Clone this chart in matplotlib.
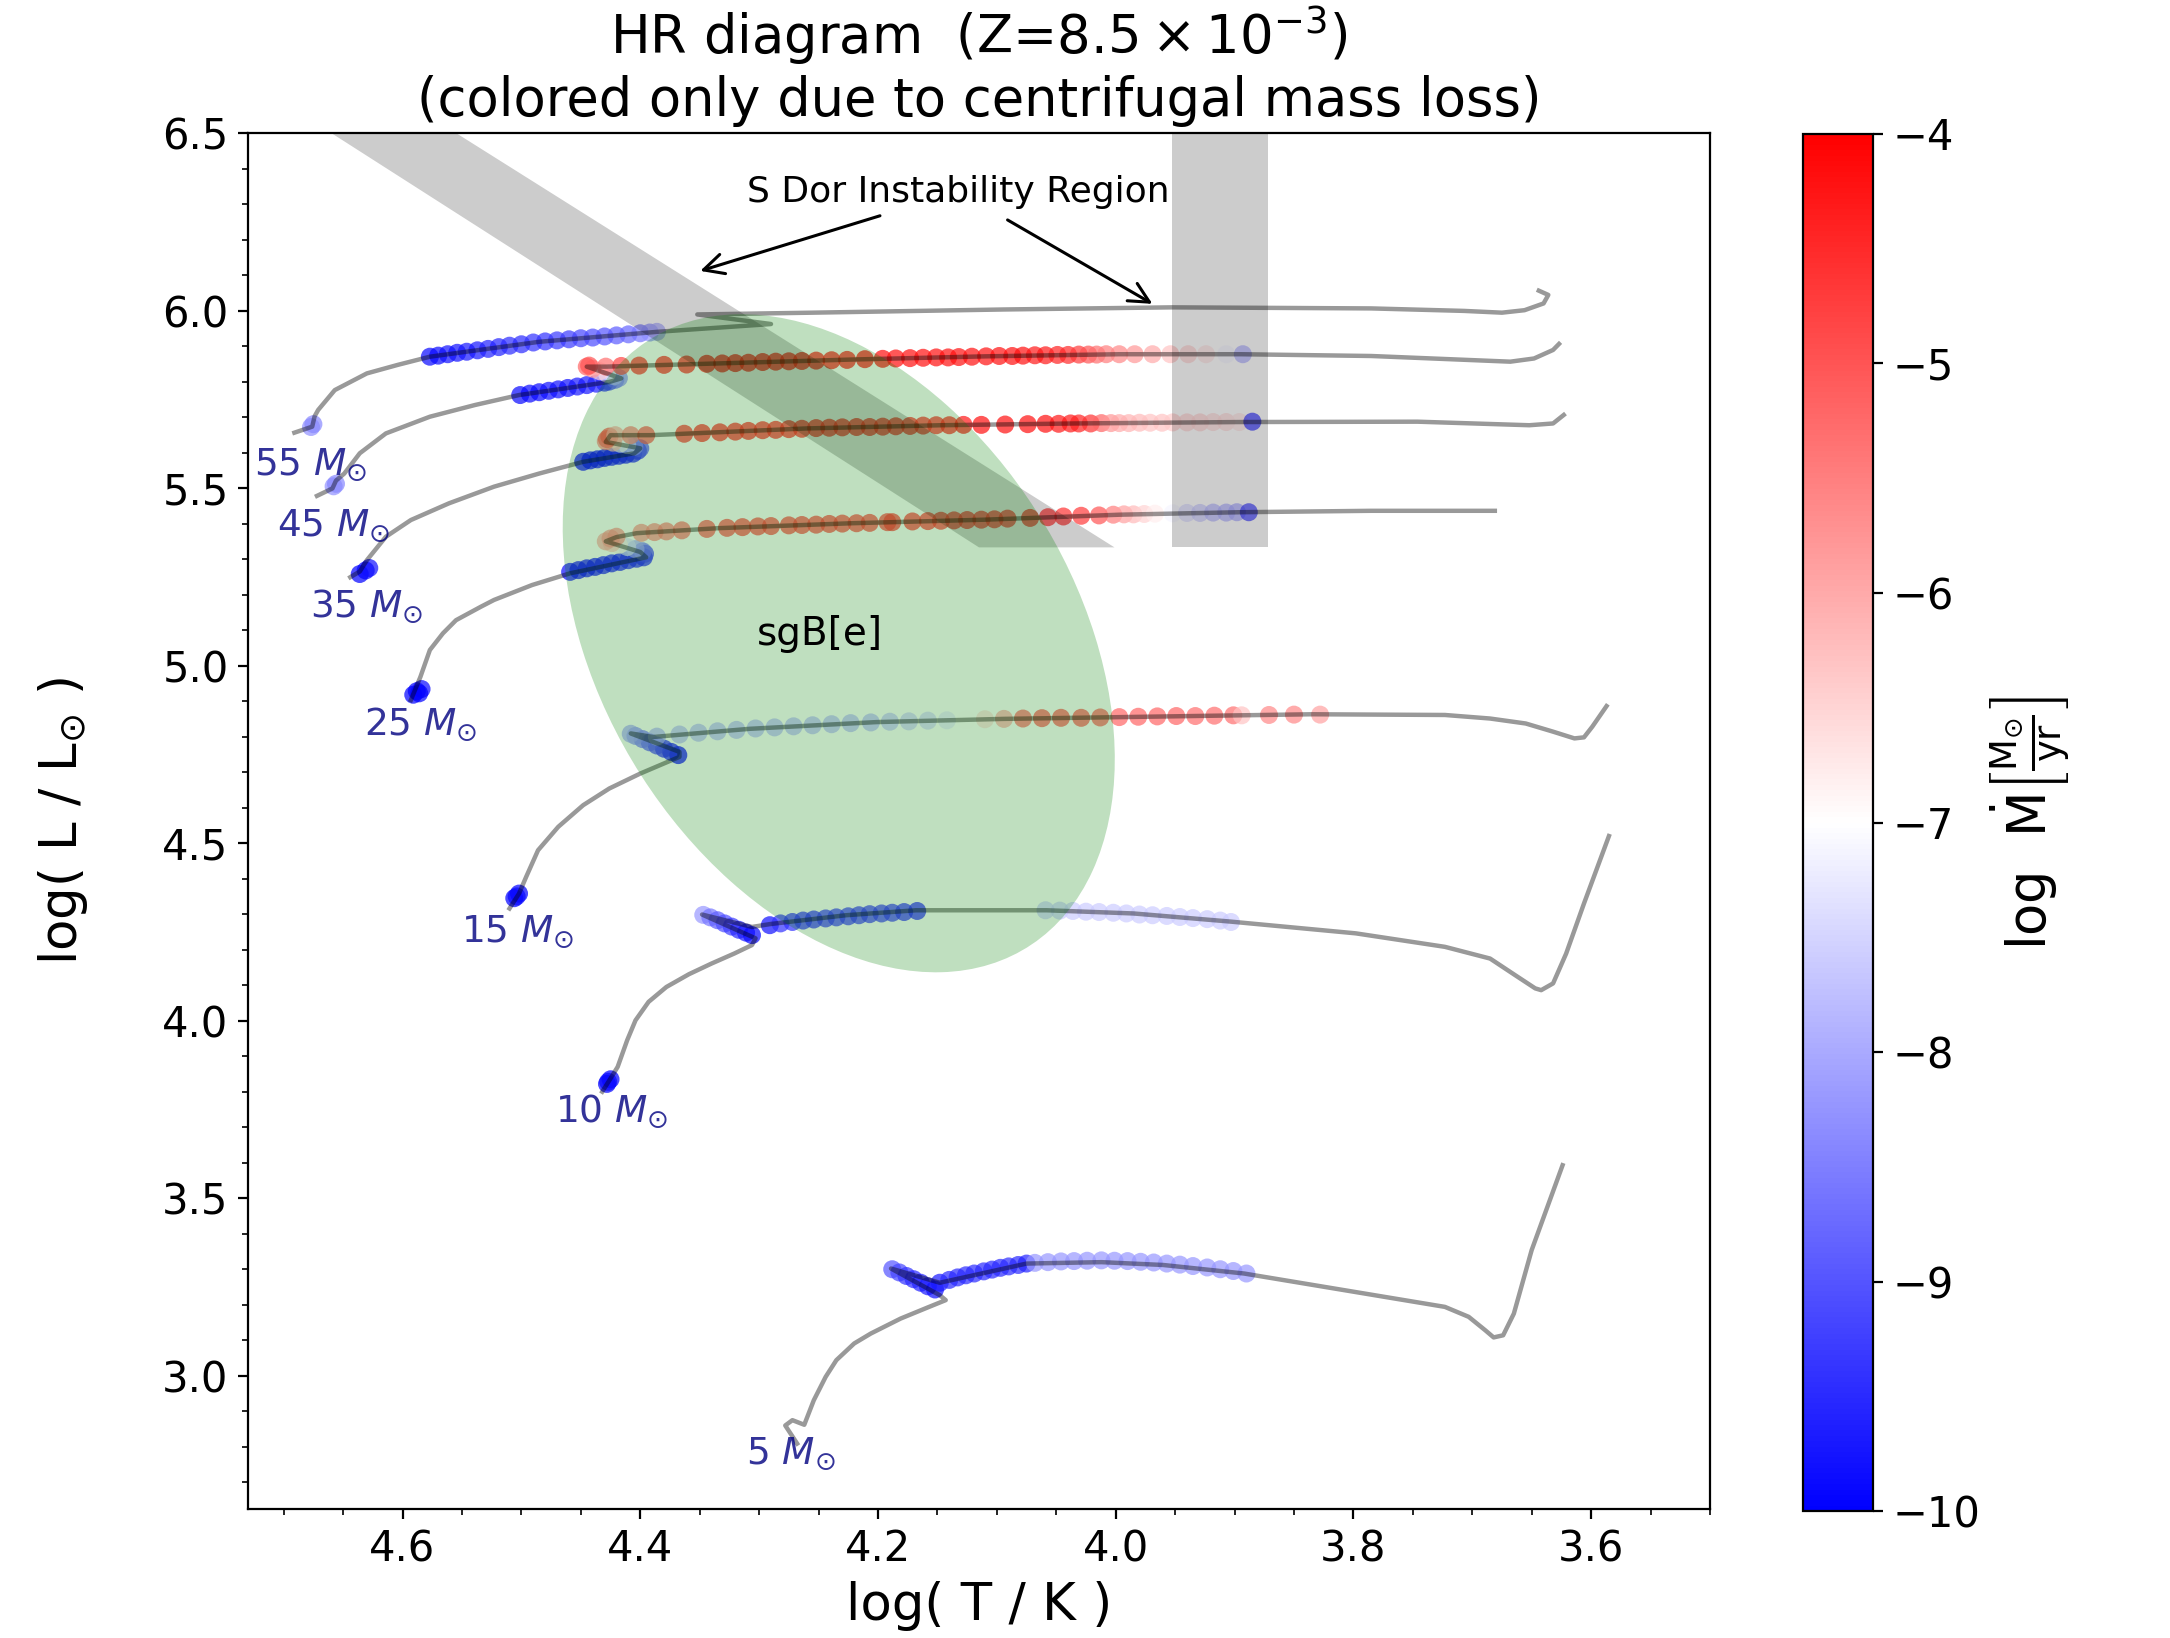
import numpy as np
import matplotlib
matplotlib.use("Agg")
import matplotlib.pyplot as plt
from matplotlib.patches import Ellipse
from matplotlib.ticker import MultipleLocator

# evolutionary tracks (log Teff, log L)
T55 = [4.691, 4.676, 4.674, 4.671, 4.657, 4.630, 4.604, 4.577, 4.485, 4.386, 4.290, 4.352, 4.255,
       4.094, 3.953, 3.785, 3.707, 3.675, 3.656, 3.640, 3.636, 3.644]
L55 = [5.656, 5.673, 5.702, 5.720, 5.776, 5.823, 5.847, 5.870, 5.912, 5.940, 5.962, 5.989, 5.994,
       6.003, 6.009, 6.006, 5.999, 5.994, 6.001, 6.020, 6.044, 6.056]

T45 = [4.672, 4.659, 4.656, 4.649, 4.636, 4.614, 4.577, 4.539, 4.502, 4.426, 4.416, 4.445, 4.429,
       4.335, 4.222, 4.110, 3.997, 3.895, 3.785, 3.668, 3.648, 3.632, 3.627]
L45 = [5.478, 5.499, 5.521, 5.541, 5.598, 5.654, 5.701, 5.734, 5.762, 5.799, 5.809, 5.842, 5.842,
       5.851, 5.862, 5.871, 5.877, 5.877, 5.872, 5.856, 5.865, 5.889, 5.906]

T35 = [4.644, 4.636, 4.630, 4.614, 4.593, 4.561, 4.523, 4.485, 4.448, 4.405, 4.400, 4.429, 4.425,
       4.391, 4.260, 4.147, 4.034, 3.896, 3.746, 3.652, 3.632, 3.623]
L35 = [5.249, 5.265, 5.297, 5.363, 5.410, 5.457, 5.504, 5.541, 5.574, 5.598, 5.612, 5.630, 5.649,
       5.649, 5.668, 5.677, 5.682, 5.686, 5.687, 5.677, 5.682, 5.706]

T25 = [4.593, 4.585, 4.577, 4.566, 4.555, 4.534, 4.523, 4.491, 4.459, 4.395, 4.400, 4.429, 4.420,
       4.403, 4.335, 4.222, 4.110, 3.997, 3.896, 3.785, 3.681]
L25 = [4.903, 4.968, 5.044, 5.091, 5.128, 5.166, 5.185, 5.227, 5.260, 5.305, 5.320, 5.350, 5.362,
       5.373, 5.387, 5.401, 5.411, 5.425, 5.432, 5.436, 5.436]

T15 = [4.510, 4.502, 4.496, 4.486, 4.469, 4.448, 4.426, 4.400, 4.367, 4.367, 4.408, 4.389, 4.308,
       4.201, 4.094, 3.896, 3.835, 3.723, 3.685, 3.655, 3.632, 3.614, 3.606, 3.599, 3.587]
L15 = [4.316, 4.358, 4.405, 4.480, 4.546, 4.607, 4.654, 4.696, 4.743, 4.757, 4.809, 4.799, 4.822,
       4.841, 4.850, 4.860, 4.863, 4.861, 4.851, 4.837, 4.814, 4.795, 4.798, 4.828, 4.886]

T10 = [4.432, 4.426, 4.419, 4.411, 4.404, 4.393, 4.378, 4.359, 4.340, 4.321, 4.306, 4.303, 4.348,
       4.306, 4.291, 4.227, 4.168, 4.058, 3.985, 3.903, 3.798, 3.723, 3.685, 3.662, 3.647, 3.642,
       3.632, 3.621, 3.606, 3.585]
L10 = [3.800, 3.832, 3.870, 3.945, 4.001, 4.053, 4.095, 4.131, 4.161, 4.189, 4.213, 4.232, 4.299,
       4.264, 4.272, 4.297, 4.311, 4.311, 4.302, 4.279, 4.246, 4.208, 4.175, 4.124, 4.091, 4.086,
       4.105, 4.189, 4.330, 4.520]

T5 = [4.268, 4.278, 4.272, 4.262, 4.254, 4.244, 4.235, 4.220, 4.206, 4.181, 4.157, 4.143, 4.148,
      4.189, 4.148, 4.075, 4.012, 3.960, 3.892, 3.723, 3.703, 3.689, 3.682, 3.674, 3.665, 3.650,
      3.624]
L5 = [2.809, 2.860, 2.875, 2.862, 2.931, 2.997, 3.044, 3.091, 3.119, 3.161, 3.194, 3.213, 3.227,
      3.302, 3.262, 3.316, 3.320, 3.312, 3.288, 3.194, 3.166, 3.128, 3.108, 3.114, 3.175, 3.354,
      3.593]

# model points with centrifugal mass loss: (log Teff, log L, log Mdot)
dots55 = [(4.677, 5.672, -8.3), (4.675, 5.680, -8.4),
          (4.577, 5.870, -9.9), (4.570, 5.873, -9.9), (4.562, 5.877, -9.8), (4.554, 5.881, -9.8),
          (4.546, 5.884, -9.7), (4.537, 5.888, -9.7), (4.528, 5.892, -9.6), (4.519, 5.897, -9.6),
          (4.510, 5.901, -9.5), (4.500, 5.905, -9.5), (4.490, 5.910, -9.4), (4.480, 5.913, -9.4),
          (4.470, 5.916, -9.3), (4.460, 5.919, -9.3), (4.450, 5.922, -9.2), (4.440, 5.924, -9.1),
          (4.430, 5.927, -9.0), (4.420, 5.930, -8.9), (4.410, 5.933, -8.8), (4.400, 5.936, -8.6),
          (4.392, 5.938, -8.3), (4.386, 5.940, -8.0)]

dots45 = [(4.658, 5.505, -8.3), (4.656, 5.512, -8.4),
          (4.501, 5.762, -9.9), (4.493, 5.766, -9.9), (4.485, 5.770, -9.9), (4.477, 5.774, -9.8),
          (4.469, 5.778, -9.8), (4.461, 5.782, -9.8), (4.453, 5.786, -9.7), (4.445, 5.790, -9.7),
          (4.437, 5.794, -9.6), (4.430, 5.797, -9.6),
          (4.426, 5.800, -9.3), (4.421, 5.805, -8.8), (4.418, 5.810, -8.3),
          (4.422, 5.815, -7.8), (4.428, 5.822, -7.2), (4.434, 5.829, -6.5), (4.440, 5.836, -5.8),
          (4.445, 5.842, -5.2), (4.443, 5.845, -5.0),
          (4.429, 5.842, -5.3), (4.416, 5.844, -4.8), (4.401, 5.845, -4.5), (4.380, 5.847, -4.4),
          (4.361, 5.848, -4.4), (4.344, 5.850, -4.3), (4.331, 5.851, -4.3), (4.320, 5.852, -4.3),
          (4.309, 5.853, -4.3), (4.297, 5.855, -4.3), (4.286, 5.856, -4.3), (4.275, 5.857, -4.3),
          (4.264, 5.858, -4.3), (4.252, 5.859, -4.3), (4.239, 5.860, -4.3), (4.226, 5.861, -4.3),
          (4.211, 5.863, -4.2), (4.196, 5.864, -4.2), (4.185, 5.865, -4.2), (4.173, 5.866, -4.2),
          (4.162, 5.867, -4.2), (4.151, 5.868, -4.2), (4.141, 5.868, -4.2), (4.132, 5.869, -4.2),
          (4.121, 5.870, -4.2), (4.109, 5.871, -4.2), (4.098, 5.872, -4.2), (4.087, 5.872, -4.2),
          (4.078, 5.873, -4.2), (4.068, 5.874, -4.3), (4.059, 5.874, -4.3), (4.049, 5.875, -4.4),
          (4.040, 5.875, -4.5), (4.031, 5.876, -4.7), (4.023, 5.876, -5.0), (4.016, 5.876, -5.3),
          (4.008, 5.877, -5.5), (3.997, 5.877, -5.6), (3.984, 5.877, -5.8), (3.969, 5.877, -6.0),
          (3.954, 5.877, -6.3), (3.939, 5.877, -6.5), (3.924, 5.877, -6.7), (3.907, 5.877, -7.1),
          (3.893, 5.877, -7.9)]

dots35 = [(4.636, 5.258, -10.0), (4.631, 5.268, -10.0), (4.628, 5.275, -9.8),
          (4.448, 5.574, -9.9), (4.442, 5.578, -9.9), (4.436, 5.581, -9.9), (4.430, 5.585, -9.9),
          (4.424, 5.588, -9.8), (4.418, 5.591, -9.8), (4.412, 5.594, -9.8), (4.406, 5.597, -9.7),
          (4.402, 5.605, -9.5), (4.400, 5.612, -9.0), (4.405, 5.617, -8.3), (4.411, 5.621, -7.6),
          (4.417, 5.625, -6.9), (4.423, 5.628, -6.2), (4.429, 5.632, -5.6), (4.428, 5.638, -5.2),
          (4.426, 5.645, -5.0),
          (4.421, 5.649, -6.0), (4.408, 5.649, -5.5), (4.395, 5.649, -5.0), (4.363, 5.653, -4.6),
          (4.348, 5.655, -4.5), (4.333, 5.657, -4.5), (4.320, 5.659, -4.5), (4.309, 5.661, -4.5),
          (4.297, 5.663, -4.5), (4.286, 5.664, -4.5), (4.275, 5.666, -4.5), (4.264, 5.667, -4.5),
          (4.252, 5.669, -4.5), (4.241, 5.670, -4.5), (4.230, 5.671, -4.5), (4.218, 5.672, -4.5),
          (4.207, 5.672, -4.5), (4.196, 5.673, -4.5), (4.185, 5.674, -4.5), (4.173, 5.675, -4.5),
          (4.162, 5.676, -4.5), (4.151, 5.677, -4.5), (4.140, 5.677, -4.4), (4.128, 5.678, -4.3),
          (4.113, 5.678, -4.2), (4.093, 5.679, -4.2), (4.074, 5.680, -4.2), (4.059, 5.681, -4.2),
          (4.048, 5.681, -4.3), (4.038, 5.682, -4.3), (4.031, 5.682, -4.4), (4.021, 5.682, -4.6),
          (4.012, 5.683, -5.2), (4.004, 5.683, -5.8), (3.997, 5.683, -6.0), (3.989, 5.683, -6.1),
          (3.980, 5.684, -6.2), (3.971, 5.684, -6.3), (3.961, 5.684, -6.3), (3.952, 5.685, -6.4),
          (3.940, 5.685, -6.5), (3.929, 5.685, -6.5), (3.918, 5.686, -6.6), (3.907, 5.686, -6.6),
          (3.896, 5.686, -6.7), (3.885, 5.687, -9.3)]

dots25 = [(4.591, 4.918, -10.0), (4.588, 4.928, -10.0), (4.584, 4.934, -9.9), (4.586, 4.922, -10.0),
          (4.459, 5.264, -9.8), (4.452, 5.269, -9.8), (4.445, 5.274, -9.8), (4.438, 5.278, -9.8),
          (4.431, 5.283, -9.7), (4.424, 5.288, -9.7), (4.417, 5.292, -9.7), (4.410, 5.297, -9.6),
          (4.403, 5.301, -9.6), (4.397, 5.305, -9.6),
          (4.396, 5.315, -9.2), (4.398, 5.322, -8.6), (4.404, 5.328, -8.0), (4.411, 5.334, -7.4),
          (4.418, 5.340, -6.8), (4.424, 5.345, -6.3), (4.429, 5.350, -6.0), (4.425, 5.358, -5.8),
          (4.420, 5.363, -5.7),
          (4.399, 5.374, -5.7), (4.388, 5.376, -5.6), (4.378, 5.378, -5.5), (4.365, 5.381, -5.3),
          (4.344, 5.385, -5.0), (4.327, 5.388, -4.9), (4.314, 5.390, -4.8), (4.301, 5.392, -4.8),
          (4.290, 5.393, -4.8), (4.275, 5.395, -4.8), (4.264, 5.396, -4.8), (4.252, 5.397, -4.8),
          (4.241, 5.399, -4.8), (4.230, 5.400, -4.8), (4.218, 5.401, -4.8), (4.207, 5.402, -4.8),
          (4.192, 5.404, -4.8), (4.188, 5.404, -4.7), (4.171, 5.406, -4.7), (4.158, 5.407, -4.7),
          (4.147, 5.408, -4.7), (4.136, 5.409, -4.7), (4.125, 5.410, -4.7), (4.113, 5.411, -4.7),
          (4.102, 5.412, -4.7), (4.091, 5.414, -4.7), (4.072, 5.416, -4.6), (4.057, 5.418, -4.6),
          (4.044, 5.420, -4.6), (4.029, 5.422, -4.7), (4.014, 5.423, -5.0), (4.002, 5.425, -5.5),
          (3.993, 5.426, -5.9), (3.985, 5.426, -6.2), (3.976, 5.427, -6.5), (3.967, 5.428, -6.8),
          (3.952, 5.429, -7.1), (3.940, 5.430, -7.4), (3.929, 5.430, -7.6), (3.918, 5.431, -7.8),
          (3.907, 5.431, -7.9), (3.898, 5.432, -8.0), (3.888, 5.432, -9.2)]

dots15 = [(4.506, 4.345, -10.0), (4.502, 4.358, -10.0), (4.504, 4.350, -9.9),
          (4.368, 4.748, -9.9), (4.374, 4.757, -9.7), (4.380, 4.766, -9.5), (4.386, 4.775, -9.2),
          (4.392, 4.784, -8.9), (4.398, 4.793, -8.6), (4.404, 4.802, -8.3), (4.408, 4.808, -8.0),
          (4.386, 4.800, -7.9), (4.367, 4.806, -7.8), (4.351, 4.811, -7.8), (4.335, 4.815, -7.8),
          (4.319, 4.819, -7.8), (4.303, 4.823, -7.8), (4.287, 4.826, -7.8), (4.271, 4.829, -7.8),
          (4.255, 4.832, -7.8), (4.239, 4.835, -7.8), (4.223, 4.838, -7.8), (4.206, 4.840, -7.8),
          (4.190, 4.842, -7.7), (4.174, 4.843, -7.6), (4.158, 4.845, -7.5), (4.142, 4.846, -7.3),
          (4.126, 4.847, -7.0), (4.110, 4.849, -6.6), (4.094, 4.850, -6.0), (4.078, 4.851, -5.2),
          (4.062, 4.852, -5.0), (4.046, 4.853, -5.0), (4.029, 4.853, -5.0), (4.013, 4.854, -5.1),
          (3.997, 4.855, -5.2), (3.981, 4.856, -5.2), (3.965, 4.857, -5.2), (3.949, 4.858, -5.2),
          (3.933, 4.858, -5.3), (3.917, 4.859, -5.3), (3.901, 4.860, -5.3), (3.894, 4.860, -6.3),
          (3.871, 4.861, -5.6), (3.850, 4.862, -5.6), (3.828, 4.862, -5.9)]

dots10 = [(4.428, 3.822, -10.0), (4.425, 3.835, -10.0), (4.427, 3.828, -9.9),
          (4.347, 4.298, -8.2), (4.341, 4.291, -8.6), (4.335, 4.283, -8.9), (4.329, 4.274, -9.1),
          (4.323, 4.265, -9.3), (4.317, 4.256, -9.5), (4.311, 4.248, -9.7), (4.306, 4.241, -9.9),
          (4.291, 4.269, -9.8), (4.282, 4.274, -9.4), (4.272, 4.278, -9.4), (4.263, 4.282, -9.4),
          (4.254, 4.285, -9.4), (4.244, 4.288, -9.3), (4.235, 4.291, -9.3), (4.225, 4.294, -9.3),
          (4.216, 4.297, -9.3), (4.207, 4.300, -9.3), (4.197, 4.302, -9.3), (4.188, 4.304, -9.3),
          (4.178, 4.306, -9.4), (4.167, 4.309, -9.5),
          (4.059, 4.311, -7.6), (4.047, 4.310, -7.6), (4.036, 4.309, -7.6), (4.025, 4.307, -7.6),
          (4.014, 4.306, -7.6), (4.002, 4.304, -7.6), (3.991, 4.302, -7.6), (3.980, 4.299, -7.6),
          (3.969, 4.297, -7.6), (3.957, 4.295, -7.6), (3.946, 4.292, -7.6), (3.935, 4.289, -7.6),
          (3.923, 4.286, -7.6), (3.912, 4.282, -7.6), (3.903, 4.278, -7.6)]

dots5 = [(4.188, 3.300, -9.0), (4.182, 3.291, -9.2), (4.176, 3.281, -9.4), (4.170, 3.272, -9.5),
         (4.164, 3.262, -9.6), (4.158, 3.252, -9.7), (4.152, 3.243, -9.8),
         (4.148, 3.262, -9.7), (4.140, 3.270, -9.5), (4.133, 3.277, -9.5), (4.126, 3.283, -9.5),
         (4.119, 3.288, -9.5), (4.111, 3.294, -9.5), (4.104, 3.299, -9.5), (4.097, 3.304, -9.5),
         (4.090, 3.308, -9.5), (4.082, 3.312, -9.5), (4.075, 3.316, -9.6),
         (4.068, 3.318, -8.2), (4.057, 3.320, -8.2), (4.046, 3.322, -8.2), (4.035, 3.323, -8.2),
         (4.024, 3.324, -8.2), (4.012, 3.325, -8.2), (4.001, 3.324, -8.2), (3.990, 3.323, -8.2),
         (3.979, 3.321, -8.2), (3.968, 3.319, -8.2), (3.957, 3.316, -8.2), (3.946, 3.313, -8.2),
         (3.935, 3.309, -8.2), (3.923, 3.305, -8.2), (3.912, 3.300, -8.2), (3.901, 3.295, -8.2),
         (3.890, 3.288, -8.2)]

masses = [55, 45, 35, 25, 15, 10, 5]
label_T = [4.677, 4.658, 4.630, 4.585, 4.503, 4.424, 4.273]
label_L = [5.565, 5.393, 5.167, 4.836, 4.251, 3.744, 2.781]

# S Dor instability region and sgB[e] region
sdor_diag_T = [4.660, 4.555, 4.001, 4.115]
sdor_diag_L = [6.5, 6.5, 5.333, 5.333]
sdor_vert_T = [3.953, 3.872, 3.872, 3.953]
sdor_vert_L = [6.5, 6.5, 5.333, 5.333]

tracks = [(T55, L55, dots55), (T45, L45, dots45), (T35, L35, dots35), (T25, L25, dots25),
          (T15, L15, dots15), (T10, L10, dots10), (T5, L5, dots5)]

cmap = plt.get_cmap("bwr")
vmin, vmax = -10, -4

fig = plt.figure(figsize=(10.85, 8.19), dpi=200)
ax = fig.add_axes([0.1143, 0.0788, 0.6737, 0.840])
cax = fig.add_axes([0.8309, 0.0775, 0.0323, 0.8407])

for T, L, dots in tracks:
    d = np.array(dots)
    ax.scatter(d[:, 0], d[:, 1], c=d[:, 2], cmap=cmap, vmin=vmin, vmax=vmax,
               s=42, alpha=0.7, edgecolors="none", zorder=2)
    ax.plot(T, L, color="k", alpha=0.4, lw=1.6, zorder=3, solid_joinstyle="round")

ax.fill(sdor_diag_T, sdor_diag_L, color="k", alpha=0.2, lw=0, zorder=4)
ax.fill(sdor_vert_T, sdor_vert_L, color="k", alpha=0.2, lw=0, zorder=4)
ax.add_patch(Ellipse((4.233, 5.063), width=0.433, height=1.861, angle=-5.33,
                     color="green", alpha=0.25, lw=0, zorder=4))

ax.text(4.249, 5.088, "sgB[e]", fontsize=14, ha="center", va="center", zorder=5)
ax.annotate("S Dor Instability Region", xy=(4.354, 6.107), xytext=(4.132, 6.335),
            fontsize=13, ha="center", va="center",
            arrowprops=dict(arrowstyle="->", color="k", lw=1.1, mutation_scale=18))
ax.annotate("", xy=(3.965, 6.011), xytext=(4.095, 6.263),
            arrowprops=dict(arrowstyle="->", color="k", lw=1.1, mutation_scale=18))

for m, tx, ly in zip(masses, label_T, label_L):
    ax.text(tx, ly, r"%d $M_{\odot}$" % m, color="navy", alpha=0.8, fontsize=13.5,
            ha="center", va="center", zorder=6)

ax.set_xlim(4.73, 3.5)
ax.set_ylim(2.625, 6.5)
ax.set_xticks([4.6, 4.4, 4.2, 4.0, 3.8, 3.6])
ax.xaxis.set_minor_locator(MultipleLocator(0.05))
ax.yaxis.set_major_locator(MultipleLocator(0.5))
ax.yaxis.set_minor_locator(MultipleLocator(0.1))
ax.tick_params(labelsize=15)
ax.set_xlabel("log( T / K )", fontsize=18.5)
ax.set_ylabel(r"log( L / L$_{\odot}$ )", fontsize=18.5, labelpad=26)
ax.set_title("HR diagram  (Z=$8.5\\times10^{-3}$)\n(colored only due to centrifugal mass loss)",
             fontsize=19)

sm = plt.cm.ScalarMappable(cmap=cmap, norm=plt.Normalize(vmin, vmax))
cb = fig.colorbar(sm, cax=cax)
cb.set_ticks([-4, -5, -6, -7, -8, -9, -10])
cb.ax.tick_params(labelsize=15)
cb.set_label(r"log  $\dot{\mathrm{M}}\left[\frac{\mathrm{M}_{\odot}}{\mathrm{yr}}\right]$",
             fontsize=19, labelpad=3)

fig.savefig("out.png", dpi=200)
